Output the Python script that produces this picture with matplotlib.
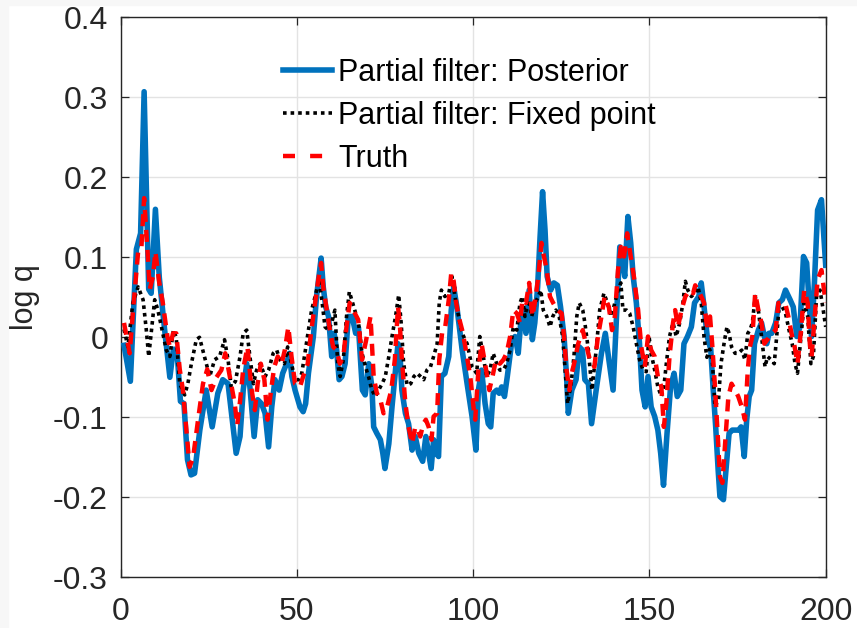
import matplotlib
matplotlib.use("Agg")
import matplotlib.pyplot as plt
from matplotlib.patches import Rectangle

# ---------------- data ----------------
post_t = [1, 2.8, 4.5, 5.7, 6.7, 8, 8.7, 9.9, 11, 12.5, 14, 15, 16, 17, 18, 19, 20, 21, 22.5, 24.3,
          26, 27.6, 29, 30.5, 32.8, 33.9, 34.8, 35.8, 36.7, 37.9, 38.9, 40, 41, 42, 42.9, 43.8, 45,
          46, 47.1, 47.9, 48.6, 49.5, 50.9, 51.8, 52.5, 53.3, 54.7, 55.6, 56.9, 57.5, 58.2, 59, 59.9,
          60.6, 61.3, 62, 62.8, 63.7, 64.6, 65.7, 66.7, 67.5, 68.6, 69.4, 70.4, 71.3, 71.8, 72.7,
          73.7, 74.4, 75, 76.1, 77, 78, 78.7, 79.2, 79.8, 80.8, 81.7, 82.7, 83.6, 84.6, 85.7, 86.6,
          87.4, 88.1, 88.8, 89.5, 90.2, 91, 92, 93.1, 93.8, 94.5, 95.4, 96.9, 98.3, 99.7, 100.8,
          101.5, 102.4, 103.4, 104.3, 105, 105.7, 106.7, 107.4, 108.1, 108.9, 109.7, 110.9, 111.9,
          112.8, 113.5, 114.2, 115, 115.9, 116.8, 117.5, 118.3, 119, 119.7, 120.4, 121, 122, 122.9,
          123.9, 124.8, 125.8, 126.5, 127, 128, 129.2, 130.1, 131, 131.7, 132.7, 133.6, 134.9,
          136.4, 137.5, 138.5, 139.7, 140.6, 141.6, 142.2, 143, 143.9, 144.7, 145.4, 146.3, 147.2,
          147.9, 148.8, 149.6, 150.5, 151.5, 152.4, 153.2, 154, 155, 156, 157, 157.9, 158.9, 159.8,
          160.8, 161.9, 162.8, 164, 164.7, 165.5, 166.4, 167.4, 168.1, 168.8, 169.5, 170, 171,
          171.7, 172.6, 173.5, 174.5, 175.3, 176, 176.9, 177.6, 178.3, 179, 179.8, 180.9, 181.8,
          182.6, 183.3, 183.9, 184.7, 185.8, 186.7, 187.7, 188.6, 189.9, 190.8, 191.8, 192.7,
          193.7, 194.6, 195.3, 196, 196.8, 197.7, 198.8, 200]
post_v = [-0.01, -0.055, 0.11, 0.13, 0.307, 0.06, 0.055, 0.16, 0.075, 0.01, -0.05, -0.015, -0.015,
          -0.08, -0.083, -0.153, -0.172, -0.17, -0.116, -0.066, -0.112, -0.07, -0.053, -0.058,
          -0.145, -0.124, -0.066, -0.033, -0.062, -0.124, -0.078, -0.083, -0.095, -0.137, -0.087,
          -0.053, -0.066, -0.045, -0.033, -0.02, -0.049, -0.066, -0.087, -0.093, -0.083, -0.045,
          0.001, 0.051, 0.099, 0.063, 0.038, 0.026, -0.024, 0.005, -0.016, -0.053, -0.049, -0.033,
          0.026, 0.026, 0.005, 0.012, -0.066, -0.072, -0.033, -0.062, -0.112, -0.12, -0.128,
          -0.145, -0.164, -0.133, -0.087, -0.041, -0.008, -0.016, -0.066, -0.095, -0.108, -0.141,
          -0.124, -0.145, -0.155, -0.124, -0.145, -0.164, -0.128, -0.145, -0.149, -0.049, -0.045,
          -0.024, 0.034, 0.063, 0.038, -0.016, -0.058, -0.099, -0.141, -0.066, -0.041, -0.083,
          -0.108, -0.112, -0.07, -0.066, -0.07, -0.062, -0.074, -0.049, -0.008, 0.001, -0.02,
          0.018, 0.034, 0.005, 0.059, -0.003, 0.018, 0.063, 0.126, 0.182, 0.134, 0.076, 0.059,
          0.068, 0.065, 0.038, 0.001, -0.049, -0.095, -0.066, -0.053, -0.012, -0.016, -0.053,
          -0.058, -0.108, -0.066, -0.02, 0.005, -0.028, -0.066, 0.018, 0.113, 0.101, 0.076, 0.151,
          0.118, 0.076, 0.043, -0.008, -0.066, -0.087, -0.049, -0.087, -0.099, -0.116, -0.145,
          -0.185, -0.12, -0.062, -0.045, -0.074, -0.066, -0.008, 0.001, 0.013, 0.043, 0.051, 0.068,
          0.038, 0.001, -0.015, -0.066, -0.112, -0.166, -0.199, -0.203, -0.166, -0.12, -0.116,
          -0.116, -0.116, -0.112, -0.149, -0.103, -0.074, -0.066, -0.008, 0.009, 0.018, 0.001,
          -0.008, 0.005, 0.005, 0.018, 0.043, 0.047, 0.059, 0.047, 0.038, 0.001, 0.013, 0.101,
          0.093, 0.043, 0.001, 0.068, 0.159, 0.172, 0.09]

fixed_t = [1, 2.1, 3.5, 5, 6.4, 7.3, 8, 8.7, 9.7, 10.6, 11.6, 13, 14, 15, 15.8, 16.8, 18.2, 19.1,
           20.1, 21.5, 22.4, 23.8, 25.3, 26.7, 28.1, 29.5, 30.5, 31.4, 32.6, 33.9, 34.8, 35.8,
           36.7, 37.7, 38.6, 39.6, 41, 42, 43.3, 44.3, 45.2, 46.5, 47.4, 48.5, 49.5, 50.6, 51.4,
           52.3, 53.3, 54.2, 55.2, 56.3, 57.2, 58, 59, 59.9, 60.8, 61.6, 62.3, 63.2, 64.1, 64.9,
           65.7, 66.7, 67.5, 68.5, 69.5, 70.4, 71.3, 72.3, 73.2, 74.2, 75.1, 76.1, 77, 78, 78.9,
           79.6, 80.3, 81.3, 82.3, 83.2, 84.1, 85.1, 86, 86.9, 87.9, 88.8, 89.8, 90.4, 91, 92,
           93.1, 94, 95, 95.9, 96.9, 98.3, 99.7, 101, 101.9, 102.9, 103.8, 104.8, 105.7, 106.7,
           107.6, 108.6, 109.5, 110.5, 111.4, 112.4, 113.3, 114, 114.7, 115.7, 116.6, 117.6, 118.5,
           119.2, 119.9, 120.9, 121.8, 122.6, 123.5, 124.4, 125.4, 126.1, 126.8, 127.8, 128.6,
           129.4, 130.1, 131.1, 131.7, 132.7, 133.7, 134.9, 135.9, 137.1, 138.1, 139.2, 140.2,
           141.1, 141.9, 142.5, 143.5, 144.4, 145.4, 146.3, 147.2, 148.2, 149.1, 149.9, 150.5,
           151.5, 152.4, 153.4, 154.1, 154.8, 155.7, 156.7, 157.6, 158.6, 159.5, 160.2, 160.9,
           161.9, 162.8, 163.8, 164.7, 165.5, 166.3, 167.1, 167.9, 168.6, 169.6, 170.3, 171.3,
           172, 172.6, 173.3, 174.3, 175.2, 176.2, 177.1, 177.9, 178.5, 179.2, 180, 180.9, 181.8,
           182.8, 183.5, 184.5, 185.4, 186.1, 186.7, 187.7, 188.6, 189.6, 190.5, 191.3, 192, 193,
           193.9, 194.9, 195.8, 196.5, 197.4, 198.4, 199.3, 200]
fixed_v = [0.01, -0.012, 0.043, 0.063, 0.047, 0.01, -0.024, 0.005, 0.047, 0.034, 0.013, -0.016,
           -0.024, 0.009, 0.0, -0.058, -0.072, -0.058, -0.033, -0.003, 0.0, -0.024, -0.049, -0.028,
           -0.024, -0.003, -0.028, -0.062, -0.055, -0.024, 0.005, 0.009, -0.024, -0.058, -0.041,
           -0.033, -0.049, -0.041, -0.02, -0.016, -0.028, -0.033, -0.012, -0.033, -0.053, -0.053,
           -0.045, -0.02, 0.009, 0.034, 0.051, 0.072, 0.043, 0.013, 0.009, 0.018, 0.034, -0.033,
           -0.049, -0.028, 0.026, 0.057, 0.045, 0.03, 0.018, -0.02, -0.037, -0.05, -0.066, -0.074,
           -0.066, -0.058, -0.049, -0.024, 0.001, 0.026, 0.053, 0.018, -0.033, -0.06, -0.058,
           -0.049, -0.045, -0.049, -0.053, -0.041, -0.037, -0.024, -0.008, 0.043, 0.059, 0.051,
           0.055, 0.076, 0.047, 0.026, 0.005, -0.008, -0.037, -0.045, 0.001, -0.024, -0.049,
           -0.041, -0.02, -0.033, -0.041, -0.041, -0.033, -0.016, 0.013, 0.009, 0.043, 0.051,
           0.026, 0.047, 0.026, 0.043, 0.051, 0.059, 0.034, 0.026, 0.013, 0.026, 0.034, 0.026,
           0.001, -0.041, -0.083, -0.058, -0.024, 0.026, 0.043, 0.034, 0.018, -0.016, -0.066,
           -0.016, 0.034, 0.055, 0.043, 0.026, 0.043, 0.059, 0.068, 0.034, 0.034, 0.03, 0.013,
           -0.008, -0.028, -0.041, -0.043, 0.001, -0.02, -0.041, -0.062, -0.074, -0.062, -0.033,
           0.001, 0.018, 0.001, 0.018, 0.043, 0.07, 0.059, 0.051, 0.055, 0.063, 0.043, 0.0,
           -0.025, -0.015, -0.033, -0.087, -0.078, -0.033, -0.004, 0.013, 0.005, -0.012, -0.02,
           -0.02, -0.016, -0.028, 0.005, 0.009, 0.018, 0.051, 0.034, 0.001, -0.037, -0.024, -0.028,
           -0.033, 0.001, 0.034, 0.038, 0.03, 0.009, -0.008, -0.033, -0.045, 0.001, 0.043, 0.026,
           -0.033, -0.024, 0.051, 0.059, 0.034, 0.013]

truth_t = [1, 2.6, 3.5, 5, 5.9, 6.7, 7.6, 8.3, 9.2, 9.9, 11, 12, 13.3, 14, 14.9, 15.8, 16.8, 17.7,
           18.7, 19.6, 20.6, 22, 23.4, 24.6, 25.8, 27.2, 28.6, 29.7, 30.5, 32.4, 33.1, 33.9, 34.8,
           36, 37.2, 38.1, 38.9, 39.8, 40.8, 41.7, 42.7, 43.6, 44.6, 45.7, 46.6, 47.6, 48.5, 49.5,
           50.9, 51.8, 53.1, 54, 55.2, 56.1, 56.9, 57.5, 58.5, 59.4, 60.3, 61.3, 62.2, 63.2, 64.1,
           65, 66, 67.4, 68.5, 69.6, 70.9, 71.8, 72.7, 73.7, 74.6, 75.6, 76.8, 77.8, 78.7, 79.2,
           79.8, 80.8, 81.7, 82.7, 83.6, 84.4, 85, 85.9, 86.6, 87.4, 88.2, 88.8, 89.8, 90.4, 91.2,
           92.1, 93.1, 93.8, 94.5, 95.2, 95.9, 96.9, 97.8, 99.2, 100.2, 100.6, 101.5, 102.4, 103.4,
           104.6, 105.5, 106.5, 107.6, 108.6, 109.5, 110.5, 111.4, 112.4, 113.3, 114, 115, 115.9,
           116.8, 117.5, 118.5, 119.4, 120.1, 120.9, 121.8, 122.7, 123.9, 125.1, 125.8, 126.5,
           127.3, 128, 128.9, 129.8, 131.1, 132, 133.1, 134.4, 135.4, 136.4, 137.3, 138.5, 139.4,
           140.2, 141.1, 141.9, 142.8, 143.7, 144.7, 145.6, 146.8, 147.7, 148.7, 149.6, 150.5,
           151.5, 152.4, 153.4, 154.1, 154.8, 155.7, 156.7, 157.3, 158.1, 159.1, 160.2, 161.4,
           162.4, 163, 163.8, 164.7, 165.5, 166.3, 167.2, 167.8, 168.6, 169.4, 170, 170.7, 171.4,
           172.4, 173.3, 174.3, 175.2, 176.2, 177.1, 177.9, 178.5, 179.2, 180, 180.9, 181.8,
           182.6, 183.6, 184.7, 185.8, 186.6, 187.5, 188.5, 189.4, 190.3, 191.2, 192, 193, 193.9,
           194.9, 195.5, 196, 196.8, 197.7, 198.8, 200]
truth_v = [0.018, -0.02, 0.03, 0.107, 0.11, 0.174, 0.113, 0.06, 0.076, 0.107, 0.068, 0.043, 0.001,
           -0.012, 0.005, 0.005, -0.04, -0.066, -0.116, -0.162, -0.15, -0.103, -0.058, -0.04,
           -0.066, -0.05, -0.041, -0.02, -0.037, -0.083, -0.11, -0.08, -0.04, -0.012, -0.066,
           -0.091, -0.058, -0.033, -0.053, -0.103, -0.066, -0.037, -0.024, -0.033, -0.016, 0.013,
           -0.024, -0.058, -0.062, -0.049, -0.033, 0.005, 0.043, 0.072, 0.093, 0.063, 0.034, 0.009,
           -0.012, -0.016, -0.033, -0.024, 0.013, 0.043, 0.034, 0.022, -0.028, -0.005, 0.026,
           -0.049, -0.07, -0.078, -0.095, -0.087, -0.066, -0.028, 0.038, 0.018, -0.028, -0.083,
           -0.112, -0.133, -0.112, -0.116, -0.124, -0.108, -0.103, -0.112, -0.128, -0.099, -0.095,
           -0.028, 0.005, 0.013, 0.047, 0.08, 0.07, 0.043, 0.026, 0.009, -0.012, -0.049, -0.091,
           -0.103, -0.041, -0.008, -0.033, -0.066, -0.049, -0.028, -0.033, -0.028, -0.02, 0.001,
           0.034, 0.03, 0.018, 0.047, 0.043, 0.068, 0.026, 0.043, 0.076, 0.118, 0.101, 0.084,
           0.051, 0.043, 0.034, 0.03, 0.001, -0.041, -0.066, -0.045, -0.028, -0.008, 0.009, -0.008,
           -0.028, -0.037, 0.001, 0.026, 0.051, 0.038, 0.009, 0.026, 0.084, 0.113, 0.101, 0.13,
           0.101, 0.076, 0.034, -0.012, -0.037, 0.001, -0.016, -0.024, -0.049, -0.062, -0.112,
           -0.083, -0.024, 0.018, 0.034, 0.013, 0.034, 0.051, 0.059, 0.055, 0.065, 0.059, 0.051,
           0.043, 0.015, 0.026, -0.008, -0.062, -0.124, -0.174, -0.182, -0.137, -0.074, -0.058,
           -0.066, -0.074, -0.087, -0.103, -0.041, -0.012, 0.001, 0.055, 0.034, 0.018, -0.008,
           -0.002, 0.005, 0.009, 0.043, 0.043, 0.043, 0.026, 0.005, -0.012, -0.033, 0.009, 0.059,
           0.043, -0.008, -0.024, 0.022, 0.072, 0.084, 0.043]

labels = ["Partial filter: Posterior", "Partial filter: Fixed point", "Truth"]
x_ticks = [0, 50, 100, 150, 200]
y_ticks = [-0.3, -0.2, -0.1, 0, 0.1, 0.2, 0.3, 0.4]
y_ticklabels = ["-0.3", "-0.2", "-0.1", "0", "0.1", "0.2", "0.3", "0.4"]

# ---------------- figure ----------------
plt.rcParams["font.family"] = ["Liberation Sans", "DejaVu Sans"]
W, H = 857, 628
fig = plt.figure(figsize=(W / 100, H / 100), dpi=100, facecolor="white")
# light gray margin strips of the original screenshot
fig.add_artist(Rectangle((0, 0), 8 / W, 1, transform=fig.transFigure, color="#f7f7f7", zorder=0))
fig.add_artist(Rectangle((0, 1 - 5 / H), 1, 5 / H, transform=fig.transFigure, color="#f7f7f7", zorder=0))

ax = fig.add_axes([120.5 / W, 1 - 577.3 / H, 705.2 / W, 560 / H])
ax.plot(post_t, post_v, color="#0072BD", lw=4.0, label=labels[0], solid_joinstyle="round", zorder=3)
ax.plot(fixed_t, fixed_v, color="black", lw=2.6, linestyle=(0, (1, 1.1)), label=labels[1], zorder=4)
ax.plot(truth_t, truth_v, color="#FF0000", lw=3.2, linestyle=(0, (2.7, 1.8)), label=labels[2], zorder=5)

ax.set_xlim(0, 200)
ax.set_ylim(-0.3, 0.4)
ax.set_xticks(x_ticks)
ax.set_yticks(y_ticks)
ax.set_yticklabels(y_ticklabels)
ax.grid(True, color="#e3e3e3", lw=1.0, zorder=0)
ax.set_axisbelow(True)
for s in ax.spines.values():
    s.set_color("#262626")
    s.set_linewidth(1.0)
ax.tick_params(direction="in", length=5.5, width=0.9, colors="#262626", labelsize=23,
               top=True, right=True)
ax.tick_params(axis="x", pad=14)
ax.tick_params(axis="y", pad=9)
ax.set_ylabel("log q", fontsize=22, color="#262626")
ax.yaxis.set_label_coords(-0.114, 0.5)

leg = ax.legend(loc="upper left", bbox_to_anchor=((283 - 120.5) / 705.2, (577.3 - 58) / 560),
                frameon=False, fontsize=22, handlelength=1.6, handletextpad=0.2,
                labelspacing=0.42, borderpad=0, borderaxespad=0)
for t in leg.get_texts():
    t.set_color("black")
# legend handle of the truth line shows two dashes with wide gaps, as in the reference
leg.get_lines()[2].set_linestyle((0, (2.7, 3.4)))

fig.savefig("out.png", dpi=100, facecolor="white")
